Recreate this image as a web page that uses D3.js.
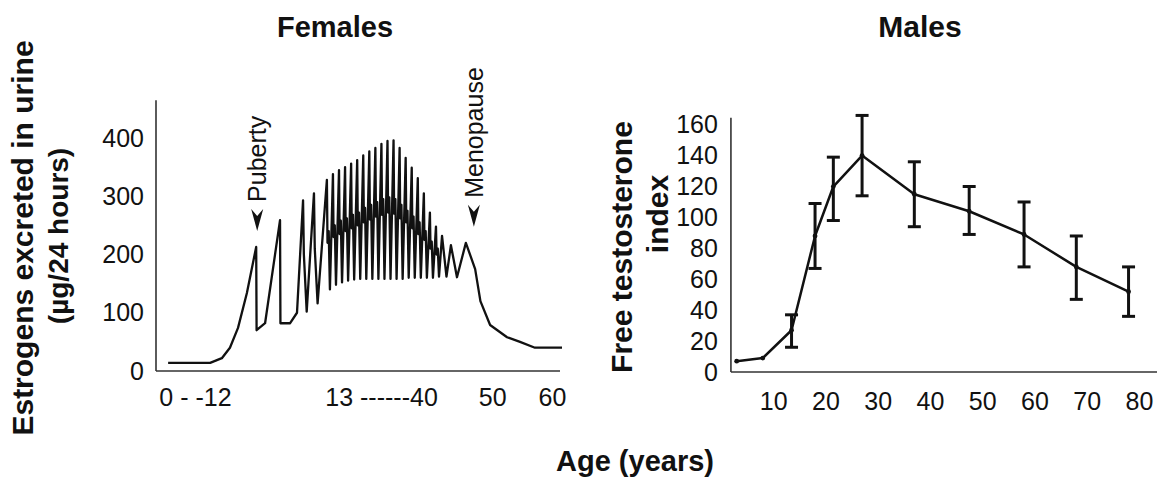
<!DOCTYPE html>
<html>
<head>
<meta charset="utf-8">
<script src="https://cdn.jsdelivr.net/npm/d3@7"></script>
<style>
body { margin: 0; background: #fff; }
text { font-family: "Liberation Sans", Arial, Helvetica, sans-serif; fill: #111; }
</style>
</head>
<body>
<script>
var w = 1157;
var h = 480;
var svg = d3.select("body")
	.append("svg")
	.attr("width", w)
	.attr("height", h);

// ---- Females: estrogens, schematic (broken) age axis, position 0-100
var femaleLeadX = [3.0, 13.4, 16.3, 18.3, 20.3, 22.5, 24.8, 24.9, 27.0, 30.7, 30.8, 33.2, 34.9, 36.4, 36.6, 37.3, 39.1, 39.3, 40.0];
var femaleLeadY = [14, 14, 22, 40, 74, 134, 213, 70, 82, 259, 82, 82, 100, 293, 200, 102, 305, 210, 116];
// menstrual cycles in the fertile years
var cycleX    = [42.3, 43.8, 45.3, 46.8, 48.3, 49.8, 51.3, 52.8, 54.3, 55.8, 57.3, 58.8, 60.3, 61.8, 63.3, 64.8, 66.3, 67.8, 69.3];
var cyclePeak = [328, 338, 345, 350, 356, 362, 370, 377, 383, 390, 395, 396, 383, 366, 349, 331, 305, 272, 248];
var cycleMid  = [220, 230, 235, 240, 245, 250, 255, 260, 265, 268, 272, 270, 262, 255, 245, 235, 225, 210, 200];
var cycleBump = [240, 250, 258, 262, 268, 272, 280, 285, 290, 295, 298, 295, 285, 275, 265, 255, 240, 222, 210];
var cycleLow  = [140, 148, 152, 155, 157, 158, 158, 158, 158, 158, 158, 158, 158, 160, 160, 160, 160, 160, 162];
var cyclePhase = [0, 0.15, 0.45, 0.75];
var femaleTailX = [70.8, 71.9, 73.0, 74.5, 76.7, 79.0, 80.3, 82.7, 86.9, 90.1, 93.8, 100.5];
var femaleTailY = [232, 162, 216, 161, 220, 175, 120, 79, 58, 50, 40, 40];

var femaleYTicks = [0, 100, 200, 300, 400];
var femaleXTickAt = [9.65, 55.7, 83.2, 98.0];
var femaleXTickLabels = ["0 - -12", "13 ------40", "50", "60"];

var events = ["Puberty", "Menopause"];
var eventAt = [24.8, 76.7];
var eventValue = [213, 220];

// ---- Males: free testosterone index
var maleAge = [3, 8, 13.5, 18, 21.5, 27, 37, 47.5, 58, 68, 78];
var maleIndex = [7, 9, 27, 88, 120, 140, 115, 104, 89, 68, 52];
var maleErrLow = [null, null, 16, 67, 98, 114, 94, 89, 68, 47, 36];
var maleErrHigh = [null, null, 37, 109, 139, 166, 136, 120, 110, 88, 68];
var maleYTicks = [0, 20, 40, 60, 80, 100, 120, 140, 160];
var maleXTicks = [10, 20, 30, 40, 50, 60, 70, 80];

var ink = "#111";
var tickFont = 25;

// build the female trace
var femalePts = [];
femaleLeadX.forEach(function(x, i){ femalePts.push([x, femaleLeadY[i]]); });
cycleX.forEach(function(x, i){
	var vals = [cyclePeak[i], cycleMid[i], cycleBump[i], cycleLow[i]];
	cyclePhase.forEach(function(p, j){ femalePts.push([x + p, vals[j]]); });
});
femaleTailX.forEach(function(x, i){ femalePts.push([x, femaleTailY[i]]); });

// scales
var xF = d3.scaleLinear().domain([0, 100]).range([156, 560]);
var yF = d3.scaleLinear().domain([0, 400]).range([371, 138]);
var xM = d3.scaleLinear().domain([0, 80]).range([721, 1139]);
var yM = d3.scaleLinear().domain([0, 160]).range([372, 124.7]);

function styleAxis(g){
	g.select(".domain").remove();
	g.attr("font-size", tickFont)
		.attr("font-family", "'Liberation Sans', Arial, Helvetica, sans-serif");
	g.selectAll("text").style("fill", ink);
}

// ---------- Females panel
var gF = svg.append("g");
gF.append("line")
	.attr("x1", xF(0)).attr("x2", xF(0))
	.attr("y1", yF(0)).attr("y2", yF(465))
	.attr("stroke", "#333").attr("stroke-width", 1.6);
gF.append("line")
	.attr("x1", xF(0)).attr("x2", xF(100))
	.attr("y1", yF(0)).attr("y2", yF(0))
	.attr("stroke", "#333").attr("stroke-width", 1.6);

gF.append("g")
	.attr("transform", "translate(" + xF(0) + ",0)")
	.call(d3.axisLeft(yF).tickValues(femaleYTicks).tickSize(0).tickPadding(12))
	.call(styleAxis);

gF.append("g")
	.attr("transform", "translate(0," + yF(0) + ")")
	.call(d3.axisBottom(xF).tickValues(femaleXTickAt).tickSize(0).tickPadding(17)
		.tickFormat(function(d, i){ return femaleXTickLabels[i]; }))
	.call(styleAxis);

var lineF = d3.line()
	.x(function(d){ return xF(d[0]); })
	.y(function(d){ return yF(d[1]); });

gF.append("path")
	.datum(femalePts)
	.attr("d", lineF)
	.attr("fill", "none")
	.attr("stroke", ink)
	.attr("stroke-width", 2.3)
	.attr("stroke-linejoin", "round");

// event arrows + labels
events.forEach(function(name, i){
	var ax = xF(eventAt[i]) + (i == 0 ? 1 : 8);
	var tip = yF(eventValue[i]) - 16;
	gF.append("path")
		.attr("d", "M" + ax + "," + tip + "L" + (ax - 6) + "," + (tip - 22) +
			"L" + ax + "," + (tip - 15) + "L" + (ax + 6) + "," + (tip - 22) + "Z")
		.attr("fill", ink);
	gF.append("text")
		.attr("transform", "translate(" + (ax + 9) + "," + (tip - 29) + ") rotate(-90)")
		.attr("font-size", 25)
		.text(name);
});

svg.append("text")
	.attr("x", 335).attr("y", 37)
	.attr("text-anchor", "middle")
	.attr("font-size", 29)
	.attr("font-weight", "bold")
	.text("Females");

svg.append("text")
	.attr("transform", "translate(33,238) rotate(-90)")
	.attr("text-anchor", "middle")
	.attr("font-size", 30)
	.attr("font-weight", "bold")
	.text("Estrogens excreted in urine");
svg.append("text")
	.attr("transform", "translate(68,236) rotate(-90)")
	.attr("text-anchor", "middle")
	.attr("font-size", 28)
	.attr("font-weight", "bold")
	.text("(\u00b5g/24 hours)");

// ---------- Males panel
var gM = svg.append("g");
gM.append("line")
	.attr("x1", xM(1.9)).attr("x2", xM(1.9))
	.attr("y1", yM(0)).attr("y2", yM(164.5))
	.attr("stroke", "#333").attr("stroke-width", 1.6);
gM.append("line")
	.attr("x1", xM(1.9)).attr("x2", xM(84))
	.attr("y1", yM(0)).attr("y2", yM(0))
	.attr("stroke", "#333").attr("stroke-width", 1.6);

gM.append("g")
	.attr("transform", "translate(" + xM(1.9) + ",0)")
	.call(d3.axisLeft(yM).tickValues(maleYTicks).tickSize(0).tickPadding(13))
	.call(styleAxis);

gM.append("g")
	.attr("transform", "translate(0," + yM(0) + ")")
	.call(d3.axisBottom(xM).tickValues(maleXTicks).tickSize(0).tickPadding(20))
	.call(styleAxis);

var males = maleAge.map(function(a, i){
	return { age: a, v: maleIndex[i], lo: maleErrLow[i], hi: maleErrHigh[i] };
});

var lineM = d3.line()
	.x(function(d){ return xM(d.age); })
	.y(function(d){ return yM(d.v); });

gM.append("path")
	.datum(males)
	.attr("d", lineM)
	.attr("fill", "none")
	.attr("stroke", ink)
	.attr("stroke-width", 2.5)
	.attr("stroke-linejoin", "round");

var bars = gM.selectAll("g.err")
	.data(males.filter(function(d){ return d.lo != null; }))
	.enter()
	.append("g")
	.attr("class", "err");
bars.append("line")
	.attr("x1", function(d){ return xM(d.age); })
	.attr("x2", function(d){ return xM(d.age); })
	.attr("y1", function(d){ return yM(d.lo); })
	.attr("y2", function(d){ return yM(d.hi); })
	.attr("stroke", ink).attr("stroke-width", 3);
bars.append("line")
	.attr("x1", function(d){ return xM(d.age) - 6.5; })
	.attr("x2", function(d){ return xM(d.age) + 6.5; })
	.attr("y1", function(d){ return yM(d.hi); })
	.attr("y2", function(d){ return yM(d.hi); })
	.attr("stroke", ink).attr("stroke-width", 3);
bars.append("line")
	.attr("x1", function(d){ return xM(d.age) - 6.5; })
	.attr("x2", function(d){ return xM(d.age) + 6.5; })
	.attr("y1", function(d){ return yM(d.lo); })
	.attr("y2", function(d){ return yM(d.lo); })
	.attr("stroke", ink).attr("stroke-width", 3);

gM.selectAll("circle")
	.data(males)
	.enter()
	.append("circle")
	.attr("cx", function(d){ return xM(d.age); })
	.attr("cy", function(d){ return yM(d.v); })
	.attr("r", 2.4)
	.attr("fill", ink);

svg.append("text")
	.attr("x", 920).attr("y", 37)
	.attr("text-anchor", "middle")
	.attr("font-size", 30)
	.attr("font-weight", "bold")
	.text("Males");

svg.append("text")
	.attr("transform", "translate(632,247) rotate(-90)")
	.attr("text-anchor", "middle")
	.attr("font-size", 30)
	.attr("font-weight", "bold")
	.text("Free testosterone");
svg.append("text")
	.attr("transform", "translate(668,214) rotate(-90)")
	.attr("text-anchor", "middle")
	.attr("font-size", 30)
	.attr("font-weight", "bold")
	.text("index");

// shared x title
svg.append("text")
	.attr("x", 635).attr("y", 471)
	.attr("text-anchor", "middle")
	.attr("font-size", 29)
	.attr("font-weight", "bold")
	.text("Age (years)");
</script>
</body>
</html>
